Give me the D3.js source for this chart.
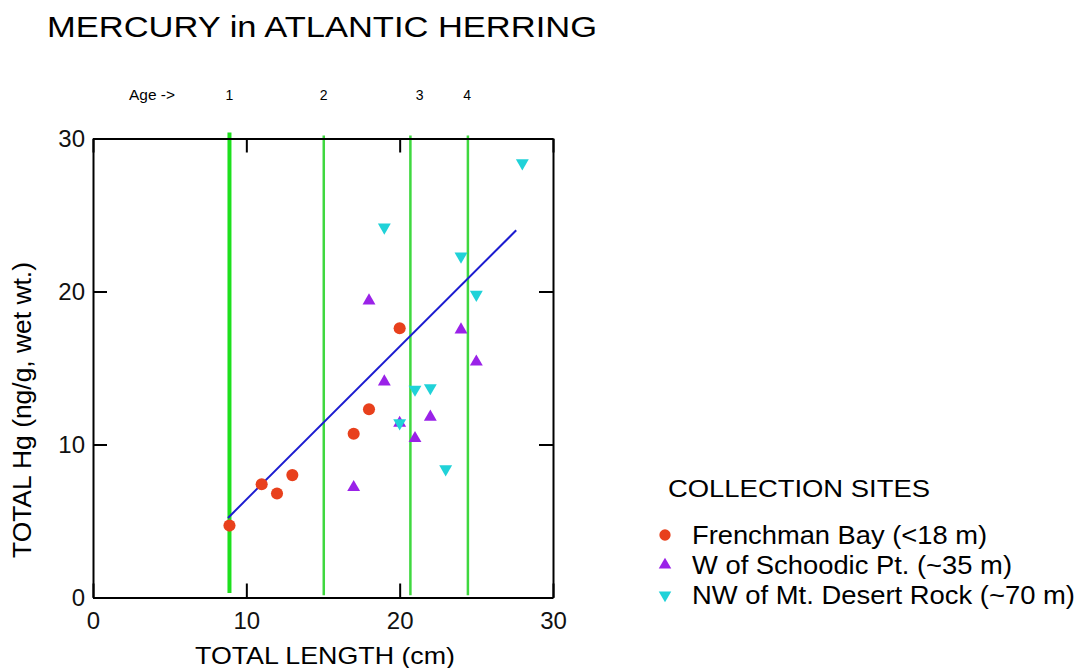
<!DOCTYPE html>
<html>
<head>
<meta charset="utf-8">
<script src="https://cdn.jsdelivr.net/npm/d3@7"></script>
<style>
  html, body { margin: 0; padding: 0; background: #fff; }
  svg { display: block; font-family: "Liberation Sans", Arial, sans-serif; }
</style>
</head>
<body>
<svg id="chart" width="1080" height="668"></svg>
<script>
// Total length (cm) and total Hg (ng/g wet wt.) per collection site
const frenchmanLength = [8.9, 11, 12, 13, 17, 18, 20];
const frenchmanHg     = [4.7, 7.4, 6.8, 8.0, 10.7, 12.3, 17.6];

const schoodicLength  = [17, 18, 19, 20, 21, 22, 24, 25];
const schoodicHg      = [7.2, 19.4, 14.1, 11.4, 10.4, 11.8, 17.5, 15.4];

const desertLength    = [19, 20, 21, 22, 23, 24, 25, 28];
const desertHg        = [24.2, 11.4, 13.6, 13.7, 8.4, 22.3, 19.8, 28.4];

// Fitted regression line, end points
const fitLength = [8.8, 27.6];
const fitHg     = [5.2, 24.0];

// Length at age boundaries, and where the age numbers sit
const ageNames    = ["1", "2", "3", "4"];
const ageLength   = [8.9, 15.05, 20.7, 24.45];
const ageLabelPos = [8.9, 15.05, 21.3, 24.4];

const tickValues = [0, 10, 20, 30];

const siteNames = [
  "Frenchman Bay (<18 m)",
  "W of Schoodic Pt. (~35 m)",
  "NW of Mt. Desert Rock (~70 m)"
];

const red = "#e8401c", purple = "#9a22e8", cyan = "#20d2d8", blue = "#1c1cd0";

const svg = d3.select("#chart");

const plot = { left: 93, right: 553, top: 138.5, bottom: 597.5 };
const x = d3.scaleLinear().domain([0, 30]).range([plot.left, plot.right]);
const y = d3.scaleLinear().domain([0, 30]).range([plot.bottom, plot.top]);

// Title
svg.append("text")
  .attr("x", 47).attr("y", 37)
  .attr("font-size", 30)
  .attr("textLength", 550).attr("lengthAdjust", "spacingAndGlyphs")
  .text("MERCURY in ATLANTIC HERRING");

// Age boundaries
const ageG = svg.append("g");
ageG.selectAll("line").data(ageLength).join("line")
  .attr("x1", d => x(d)).attr("x2", d => x(d))
  .attr("y1", (d, i) => i === 0 ? y(0.3) : y(0.15))
  .attr("y2", (d, i) => i === 0 ? y(30.4) : y(30.2))
  .attr("stroke", (d, i) => i === 0 ? "#1de01d" : "#3fd83f")
  .attr("stroke-width", (d, i) => i === 0 ? 4 : 2.5);

svg.append("text")
  .attr("x", 129).attr("y", 100)
  .attr("font-size", 14)
  .attr("textLength", 46).attr("lengthAdjust", "spacingAndGlyphs")
  .text("Age ->");
svg.selectAll(".age-num").data(ageNames).join("text")
  .attr("class", "age-num")
  .attr("x", (d, i) => x(ageLabelPos[i])).attr("y", 100)
  .attr("text-anchor", "middle")
  .attr("font-size", 14)
  .text(d => d);

// Axes: ticks point inward on all four sides
const axisStyle = g => {
  g.select(".domain").attr("stroke", "#000").attr("stroke-width", 2);
  g.selectAll(".tick line").attr("stroke", "#000").attr("stroke-width", 2);
  g.selectAll(".tick text").attr("font-size", 24).attr("fill", "#111")
    .attr("font-family", "Liberation Sans, Arial, sans-serif");
};

svg.append("g").attr("transform", `translate(0,${plot.bottom})`)
  .call(d3.axisBottom(x).tickValues(tickValues).tickSize(-14).tickSizeOuter(0).tickPadding(14))
  .call(axisStyle);
svg.append("g").attr("transform", `translate(${plot.left},0)`)
  .call(d3.axisLeft(y).tickValues(tickValues).tickSize(-14).tickSizeOuter(0).tickPadding(8))
  .call(axisStyle);
svg.append("g").attr("transform", `translate(0,${plot.top})`)
  .call(d3.axisTop(x).tickValues(tickValues).tickSize(-14).tickSizeOuter(0).tickFormat(""))
  .call(axisStyle);
svg.append("g").attr("transform", `translate(${plot.right},0)`)
  .call(d3.axisRight(y).tickValues(tickValues).tickSize(-14).tickSizeOuter(0).tickFormat(""))
  .call(axisStyle);

// Axis titles
svg.append("text")
  .attr("x", 195).attr("y", 664)
  .attr("font-size", 24)
  .attr("textLength", 260).attr("lengthAdjust", "spacingAndGlyphs")
  .text("TOTAL LENGTH (cm)");
svg.append("text")
  .attr("transform", "translate(31,558) rotate(-90)")
  .attr("font-size", 25)
  .attr("textLength", 296).attr("lengthAdjust", "spacingAndGlyphs")
  .text("TOTAL Hg (ng/g, wet wt.)");

// Regression line
svg.append("line")
  .attr("x1", x(fitLength[0])).attr("y1", y(fitHg[0]))
  .attr("x2", x(fitLength[1])).attr("y2", y(fitHg[1]))
  .attr("stroke", blue).attr("stroke-width", 2);

// Points
const circleSym = d3.symbol().type(d3.symbolCircle).size(115);
const triSym = d3.symbol().type(d3.symbolTriangle).size(72);

svg.append("g").selectAll("path").data(frenchmanLength).join("path")
  .attr("d", circleSym)
  .attr("transform", (d, i) => `translate(${x(d)},${y(frenchmanHg[i])})`)
  .attr("fill", red);

svg.append("g").selectAll("path").data(schoodicLength).join("path")
  .attr("d", triSym)
  .attr("transform", (d, i) => `translate(${x(d)},${y(schoodicHg[i])})`)
  .attr("fill", purple);

svg.append("g").selectAll("path").data(desertLength).join("path")
  .attr("d", triSym)
  .attr("transform", (d, i) => `translate(${x(d)},${y(desertHg[i])}) rotate(180)`)
  .attr("fill", cyan);

// Legend
const legend = svg.append("g");
legend.append("text")
  .attr("x", 668).attr("y", 497)
  .attr("font-size", 24)
  .attr("textLength", 262).attr("lengthAdjust", "spacingAndGlyphs")
  .text("COLLECTION SITES");

const legendLengths = [295, 320, 383];
const legendSyms = [
  { d: d3.symbol().type(d3.symbolCircle).size(100)(), fill: red, rot: 0 },
  { d: d3.symbol().type(d3.symbolTriangle).size(68)(), fill: purple, rot: 0 },
  { d: d3.symbol().type(d3.symbolTriangle).size(68)(), fill: cyan, rot: 180 }
];
const rows = legend.selectAll(".row").data(siteNames).join("g")
  .attr("class", "row")
  .attr("transform", (d, i) => `translate(0,${544 + i * 30})`);
rows.append("path")
  .attr("d", (d, i) => legendSyms[i].d)
  .attr("fill", (d, i) => legendSyms[i].fill)
  .attr("transform", (d, i) => `translate(665,-9) rotate(${legendSyms[i].rot})`);
rows.append("text")
  .attr("x", 692).attr("y", 0)
  .attr("font-size", 26)
  .attr("textLength", (d, i) => legendLengths[i]).attr("lengthAdjust", "spacingAndGlyphs")
  .text(d => d);
</script>
</body>
</html>
